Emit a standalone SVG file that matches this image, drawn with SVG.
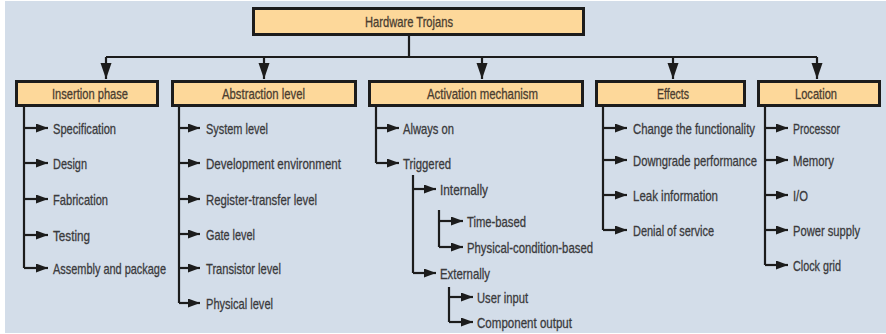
<svg xmlns="http://www.w3.org/2000/svg" width="886" height="334" viewBox="0 0 886 334">
<defs>
<style>
.bg{fill:#d3dde9}
.box{fill:#fdd89a;stroke:#1c1c1c;stroke-width:3}
.ht{font-family:"Liberation Sans Narrow","Liberation Sans",Arial,sans-serif;font-size:15px;fill:#4a3d30;stroke:#4a3d30;stroke-width:0.3;text-anchor:start}
.it{font-family:"Liberation Sans Narrow","Liberation Sans",Arial,sans-serif;font-size:15px;fill:#3a3a3c;stroke:#3a3a3c;stroke-width:0.3;text-anchor:start}
.ln{fill:none;stroke:#1c1c1c;stroke-width:2.2}
.ar{fill:none;stroke:#1c1c1c;stroke-width:2.2;marker-end:url(#ah)}
.dn{fill:none;stroke:#1c1c1c;stroke-width:2.2;marker-end:url(#dh)}
</style>
<marker id="ah" markerUnits="userSpaceOnUse" markerWidth="13" markerHeight="10" refX="12" refY="4.5" orient="auto">
<path d="M0,0 L12,4.5 L0,9 z" fill="#1c1c1c"/>
</marker>
<marker id="dh" markerUnits="userSpaceOnUse" markerWidth="17" markerHeight="12" refX="16" refY="5.5" orient="auto">
<path d="M0,0 L16,5.5 L0,11 z" fill="#1c1c1c"/>
</marker>
</defs>
<rect class="bg" x="5" y="1" width="881" height="332"/>

<g id="connectors">
<path class="ln" d="M409,36 V57 M106,57 H817"/>
<path class="dn" d="M106,57 V79"/>
<path class="dn" d="M264,57 V79"/>
<path class="dn" d="M482,57 V79"/>
<path class="dn" d="M673,57 V79"/>
<path class="dn" d="M817,57 V79"/>
<path class="ln" d="M24,107 V268"/>
<path class="ar" d="M24,128 H48"/>
<path class="ar" d="M24,163 H48"/>
<path class="ar" d="M24,199 H48"/>
<path class="ar" d="M24,235 H48"/>
<path class="ar" d="M24,268 H48"/>
<path class="ln" d="M179,107 V303"/>
<path class="ar" d="M179,128 H200"/>
<path class="ar" d="M179,163 H200"/>
<path class="ar" d="M179,199 H200"/>
<path class="ar" d="M179,234 H200"/>
<path class="ar" d="M179,268 H200"/>
<path class="ar" d="M179,303 H200"/>
<path class="ln" d="M376,107 V163"/>
<path class="ar" d="M376,128 H399"/>
<path class="ar" d="M376,163 H399"/>
<path class="ln" d="M413,175 V273"/>
<path class="ar" d="M413,189 H436"/>
<path class="ar" d="M413,273 H436"/>
<path class="ln" d="M439,210 V247"/>
<path class="ar" d="M439,221 H463"/>
<path class="ar" d="M439,247 H463"/>
<path class="ln" d="M449,287 V322"/>
<path class="ar" d="M449,297 H473"/>
<path class="ar" d="M449,322 H473"/>
<path class="ln" d="M603,107 V230"/>
<path class="ar" d="M603,128 H627"/>
<path class="ar" d="M603,160 H627"/>
<path class="ar" d="M603,195 H627"/>
<path class="ar" d="M603,230 H627"/>
<path class="ln" d="M765,107 V265"/>
<path class="ar" d="M765,128 H788"/>
<path class="ar" d="M765,160 H788"/>
<path class="ar" d="M765,195 H788"/>
<path class="ar" d="M765,230 H788"/>
<path class="ar" d="M765,265 H788"/>
</g>

<g id="root">
<rect class="box" x="253.5" y="8.5" width="330" height="26"/>
<text class="ht" x="365" y="27" textLength="88" lengthAdjust="spacingAndGlyphs">Hardware Trojans</text>
</g>

<g id="insertion-phase">
<rect class="box" x="16.5" y="81.5" width="141" height="24"/>
<text class="ht" x="52" y="99" textLength="76" lengthAdjust="spacingAndGlyphs">Insertion phase</text>
<text class="it" x="53" y="133.5" textLength="63" lengthAdjust="spacingAndGlyphs">Specification</text>
<text class="it" x="53" y="168.5" textLength="34" lengthAdjust="spacingAndGlyphs">Design</text>
<text class="it" x="53" y="204.5" textLength="55" lengthAdjust="spacingAndGlyphs">Fabrication</text>
<text class="it" x="53" y="240.5" textLength="37" lengthAdjust="spacingAndGlyphs">Testing</text>
<text class="it" x="53" y="273.5" textLength="113" lengthAdjust="spacingAndGlyphs">Assembly and package</text>
</g>

<g id="abstraction-level">
<rect class="box" x="172.5" y="81.5" width="183" height="24"/>
<text class="ht" x="222" y="99" textLength="83" lengthAdjust="spacingAndGlyphs">Abstraction level</text>
<text class="it" x="206" y="133.5" textLength="62" lengthAdjust="spacingAndGlyphs">System level</text>
<text class="it" x="206" y="168.5" textLength="135" lengthAdjust="spacingAndGlyphs">Development environment</text>
<text class="it" x="206" y="204.5" textLength="111" lengthAdjust="spacingAndGlyphs">Register-transfer level</text>
<text class="it" x="206" y="239.5" textLength="49" lengthAdjust="spacingAndGlyphs">Gate level</text>
<text class="it" x="206" y="273.5" textLength="75" lengthAdjust="spacingAndGlyphs">Transistor level</text>
<text class="it" x="206" y="308.5" textLength="67" lengthAdjust="spacingAndGlyphs">Physical level</text>
</g>

<g id="activation-mechanism">
<rect class="box" x="369.5" y="81.5" width="213" height="24"/>
<text class="ht" x="427" y="99" textLength="111" lengthAdjust="spacingAndGlyphs">Activation mechanism</text>
<text class="it" x="403" y="133.5" textLength="51" lengthAdjust="spacingAndGlyphs">Always on</text>
<text class="it" x="403" y="168.5" textLength="48" lengthAdjust="spacingAndGlyphs">Triggered</text>
<text class="it" x="440" y="194.5" textLength="48" lengthAdjust="spacingAndGlyphs">Internally</text>
<text class="it" x="467" y="226.5" textLength="59" lengthAdjust="spacingAndGlyphs">Time-based</text>
<text class="it" x="467" y="252.5" textLength="126" lengthAdjust="spacingAndGlyphs">Physical-condition-based</text>
<text class="it" x="440" y="278.5" textLength="50" lengthAdjust="spacingAndGlyphs">Externally</text>
<text class="it" x="477" y="302.5" textLength="51" lengthAdjust="spacingAndGlyphs">User input</text>
<text class="it" x="477" y="327.5" textLength="95" lengthAdjust="spacingAndGlyphs">Component output</text>
</g>

<g id="effects">
<rect class="box" x="596.5" y="81.5" width="148" height="24"/>
<text class="ht" x="657" y="99" textLength="32" lengthAdjust="spacingAndGlyphs">Effects</text>
<text class="it" x="633" y="133.5" textLength="122" lengthAdjust="spacingAndGlyphs">Change the functionality</text>
<text class="it" x="633" y="165.5" textLength="124" lengthAdjust="spacingAndGlyphs">Downgrade performance</text>
<text class="it" x="633" y="200.5" textLength="85" lengthAdjust="spacingAndGlyphs">Leak information</text>
<text class="it" x="633" y="235.5" textLength="81" lengthAdjust="spacingAndGlyphs">Denial of service</text>
</g>

<g id="location">
<rect class="box" x="758.5" y="81.5" width="121" height="24"/>
<text class="ht" x="795" y="99" textLength="42" lengthAdjust="spacingAndGlyphs">Location</text>
<text class="it" x="793" y="133.5" textLength="47" lengthAdjust="spacingAndGlyphs">Processor</text>
<text class="it" x="793" y="165.5" textLength="41" lengthAdjust="spacingAndGlyphs">Memory</text>
<text class="it" x="793" y="200.5" textLength="15" lengthAdjust="spacingAndGlyphs">I/O</text>
<text class="it" x="793" y="235.5" textLength="67" lengthAdjust="spacingAndGlyphs">Power supply</text>
<text class="it" x="793" y="270.5" textLength="48" lengthAdjust="spacingAndGlyphs">Clock grid</text>
</g>
</svg>
